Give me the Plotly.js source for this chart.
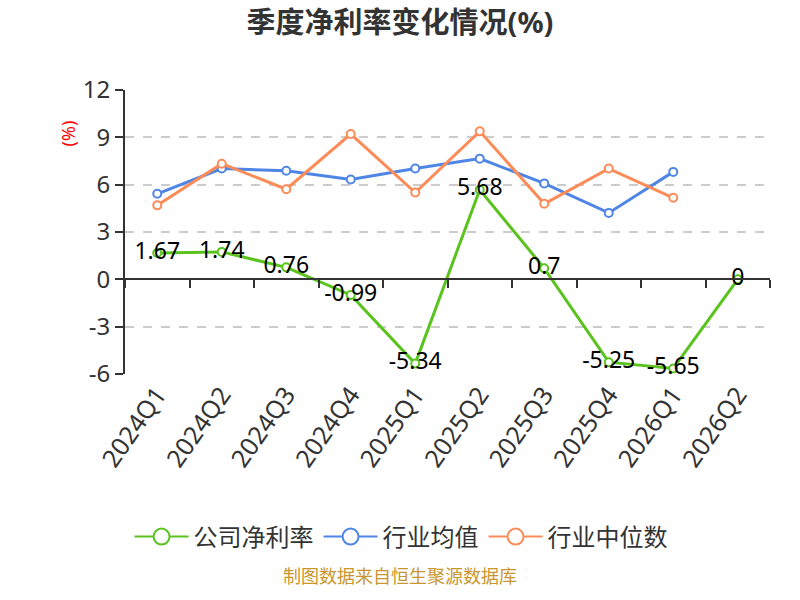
<!DOCTYPE html>
<html>
<head>
<meta charset="utf-8">
<script src="https://cdn.plot.ly/plotly-3.0.1.min.js"></script>
<style>
  body { margin: 0; }
  #chart { width: 800px; height: 600px; }
</style>
</head>
<body>
<div id="chart"></div>
<script>
// quarters on the x axis
var quarters = ["2024Q1", "2024Q2", "2024Q3", "2024Q4", "2025Q1", "2025Q2", "2025Q3", "2025Q4", "2026Q1", "2026Q2"];

// net margin, %
var companyMargin = [1.67, 1.74, 0.76, -0.99, -5.34, 5.68, 0.7, -5.25, -5.65, 0];
var industryMean = [5.42, 7.02, 6.88, 6.33, 7.02, 7.65, 6.08, 4.21, 6.81, null];
var industryMedian = [4.69, 7.33, 5.71, 9.21, 5.5, 9.38, 4.79, 7.02, 5.17, null];

var yTicks = [12, 9, 6, 3, 0, -3, -6];

var colors = {
  green: "#5ac31e",
  blue: "#4f86e6",
  orange: "#fd8b58",
};

var seriesNames = ["公司净利率", "行业均值", "行业中位数"];

var font = "Noto Sans, Noto Sans CJK SC, sans-serif";

function lineTrace(y, color, name, withText) {
  var t = {
    type: "scatter",
    x: quarters,
    y: y,
    mode: withText ? "lines+markers+text" : "lines+markers",
    line: { color: color, width: 3 },
    marker: { size: 8, color: "#ffffff", line: { color: color, width: 2 } },
    name: name,
    showlegend: false,
    hoverinfo: "x+y",
  };
  if (withText) {
    t.text = y.map(function (v) { return String(v); });
    t.textposition = "middle center";
    t.textfont = { family: font, size: 23, color: "#000000" };
  }
  return t;
}

// legend only entries, bigger circles like the original
function legendTrace(color, name) {
  return {
    type: "scatter",
    x: quarters,
    y: quarters.map(function () { return null; }),
    mode: "lines+markers",
    line: { color: color, width: 2 },
    marker: { size: 16, color: "#ffffff", line: { color: color, width: 2 } },
    name: name,
    showlegend: true,
    hoverinfo: "skip",
  };
}

// helper trace so the zero-line axis (x2) gets drawn
var axisTrace = {
  type: "scatter",
  x: quarters,
  y: quarters.map(function () { return null; }),
  xaxis: "x2",
  mode: "lines",
  showlegend: false,
  hoverinfo: "skip",
};

var data = [
  axisTrace,
  lineTrace(industryMean, colors.blue, seriesNames[1], false),
  lineTrace(industryMedian, colors.orange, seriesNames[2], false),
  lineTrace(companyMargin, colors.green, seriesNames[0], true),
  legendTrace(colors.green, seriesNames[0]),
  legendTrace(colors.blue, seriesNames[1]),
  legendTrace(colors.orange, seriesNames[2]),
];

var layout = {
  width: 800,
  height: 600,
  margin: { l: 125, r: 30, t: 90, b: 226, autoexpand: false },
  paper_bgcolor: "#ffffff",
  plot_bgcolor: "#ffffff",
  font: { family: font, color: "#333333" },
  title: {
    text: "<b>季度净利率变化情况(%)</b>",
    font: { family: font, size: 29, color: "#333333" },
    x: 0.5,
    xref: "container",
    y: 0.962,
    yref: "container",
    yanchor: "middle",
  },
  showlegend: true,
  legend: {
    orientation: "h",
    x: 0.428,
    xanchor: "center",
    y: -0.574,
    yanchor: "middle",
    font: { family: font, size: 24, color: "#333333" },
    traceorder: "normal",
    itemwidth: 54,
  },
  xaxis: {
    type: "category",
    categoryarray: quarters,
    range: [-0.5, quarters.length - 0.5],
    showline: false,
    showgrid: false,
    zeroline: false,
    ticks: "",
    tickangle: -55,
    automargin: false,
    tickfont: { family: font, size: 25, color: "#333333" },
  },
  xaxis2: {
    type: "category",
    categoryarray: quarters,
    range: [-0.5, quarters.length - 0.5],
    overlaying: "x",
    anchor: "free",
    position: 1 / 3,
    showline: true,
    linecolor: "#333333",
    linewidth: 2,
    ticks: "outside",
    tickson: "boundaries",
    ticklen: 8,
    tickwidth: 2,
    tickcolor: "#333333",
    showticklabels: false,
    showgrid: false,
    zeroline: false,
  },
  yaxis: {
    range: [-6, 12],
    tickvals: yTicks,
    ticktext: yTicks.map(String),
    showline: true,
    linecolor: "#333333",
    linewidth: 2,
    ticks: "outside",
    ticklen: 8,
    tickwidth: 2,
    tickcolor: "#333333",
    showgrid: true,
    gridcolor: "#cccccc",
    gridwidth: 1.5,
    griddash: "dash",
    zeroline: false,
    automargin: false,
    tickfont: { family: font, size: 24, color: "#333333" },
  },
  annotations: [
    {
      text: "(%)",
      xref: "paper",
      yref: "paper",
      x: -0.11,
      y: 0.9,
      textangle: -90,
      showarrow: false,
      font: { family: font, size: 18, color: "#ff0000" },
    },
    {
      text: "制图数据来自恒生聚源数据库",
      xref: "paper",
      yref: "paper",
      x: 0.426,
      y: -0.761,
      showarrow: false,
      font: { family: font, size: 18, color: "#c9962e" },
    },
  ],
};

var config = { displayModeBar: false, responsive: false };

Plotly.newPlot("chart", data, layout, config);
</script>
</body>
</html>
